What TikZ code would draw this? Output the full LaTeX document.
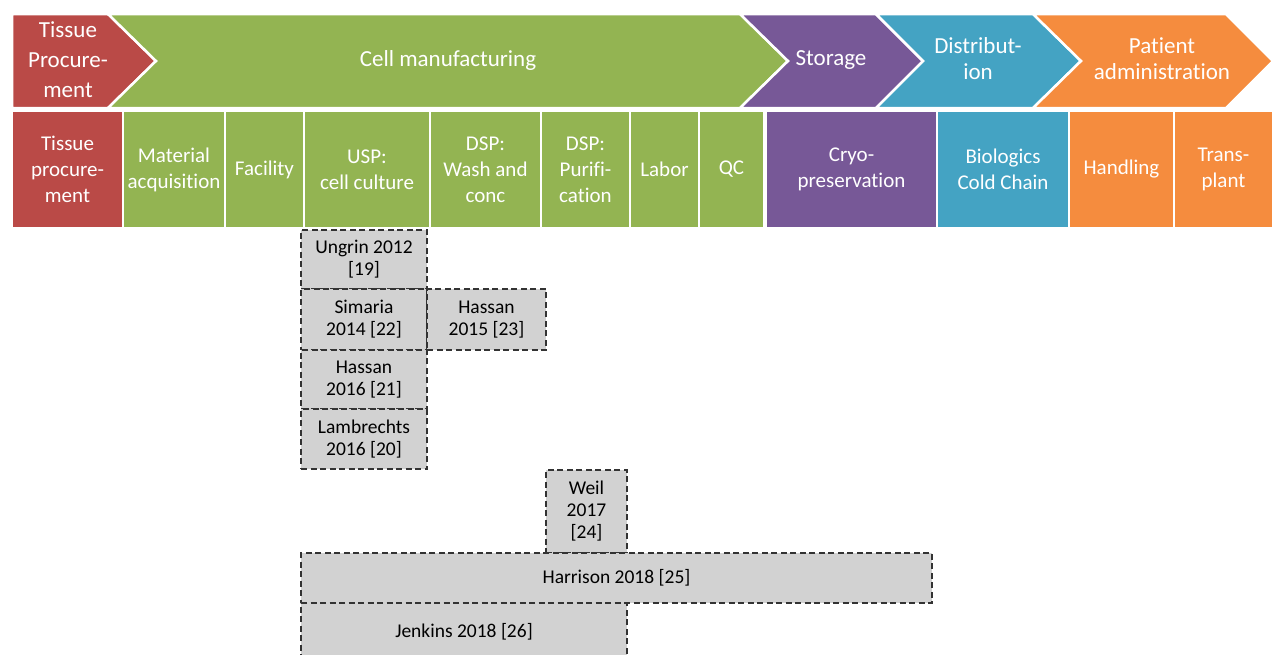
\documentclass[tikz,border=0pt]{standalone}
\usepackage{fontspec}
\setmainfont{Carlito}[Ligatures=NoCommon]
\definecolor{tisred}{HTML}{BA4A47}
\definecolor{cellgreen}{HTML}{93B452}
\definecolor{storpurple}{HTML}{775897}
\definecolor{distblue}{HTML}{44A3C3}
\definecolor{patorange}{HTML}{F58C3E}
\tikzset{
    chev/.style={draw=white, line width=2.5pt, line join=miter},
    chevtext/.style={text=white, align=center, inner sep=0pt, font=\fontsize{23}{26}\selectfont},
    hdr/.style={draw=white, line width=1.5pt, text=white, align=center, inner sep=0pt,
        minimum height=117pt, font=\fontsize{21}{26}\selectfont},
    ref/.style={draw=black!80, dash pattern=on 6pt off 3.5pt, line width=1.5pt, fill=gray!35,
        align=center, inner sep=0pt, font=\fontsize{19.5}{22}\selectfont}
}
\begin{document}
\begin{tikzpicture}[x=1pt, y=-1pt]
\useasboundingbox (0,0) rectangle (1273,654);
\clip (0,0) rectangle (1273,654);

% Process chevrons
\fill[chev, fill=tisred] (12,14) -- (108,14) -- (156,61) -- (108,108) -- (12,108) -- cycle;
\fill[chev, fill=cellgreen] (108,14) -- (740,14) -- (788,61) -- (740,108) -- (108,108) -- (156,61) -- cycle;
\fill[chev, fill=storpurple] (740,14) -- (876,14) -- (923,61) -- (876,108) -- (740,108) -- (788,61) -- cycle;
\fill[chev, fill=distblue] (876,14) -- (1033,14) -- (1081,61) -- (1033,108) -- (876,108) -- (923,61) -- cycle;
\fill[chev, fill=patorange] (1033,14) -- (1226,14) -- (1273,61) -- (1226,108) -- (1033,108) -- (1081,61) -- cycle;

\node[chevtext, font=\fontsize{23}{30}\selectfont] (tproc) at (68,60) {Tissue\\Procure-\\ment};
\node[chevtext] (cellman) at (448,60) {Cell manufacturing};
\node[chevtext] (stor) at (831,60) {Storage};
\node[chevtext] (distr) at (978,59) {Distribut-\\ion};
\node[chevtext] (patadm) at (1162,59) {Patient\\administration};

% Cost categories
\node[hdr, fill=tisred, minimum width=111pt] (tisproc) at (67.5,169.5) {Tissue\\procure-\\ment};
\node[hdr, fill=cellgreen, minimum width=102pt] (material) at (174,169.5) {Material\\acquisition};
\node[hdr, fill=cellgreen, minimum width=79pt] (facility) at (264.5,169.5) {Facility};
\node[hdr, fill=cellgreen, minimum width=126pt] (usp) at (367,169.5) {USP:\\cell culture};
\node[hdr, fill=cellgreen, minimum width=111pt] (dspwash) at (485.5,169.5) {DSP:\\Wash and\\conc};
\node[hdr, fill=cellgreen, minimum width=89pt] (dsppur) at (585.5,169.5) {DSP:\\Purifi-\\cation};
\node[hdr, fill=cellgreen, minimum width=69pt] (labor) at (664.5,169.5) {Labor};
\node[hdr, fill=cellgreen, minimum width=65pt] (qc) at (731.5,169.5) {QC};
\node[hdr, fill=storpurple, minimum width=171pt] (cryo) at (851.5,169.5) {Cryo-\\preservation};
\node[hdr, fill=distblue, minimum width=132pt] (cold) at (1003,169.5) {Biologics\\Cold Chain};
\node[hdr, fill=patorange, minimum width=105pt] (handling) at (1121.5,169.5) {Handling};
\node[hdr, fill=patorange, minimum width=99pt] (transplant) at (1223.5,169.5) {Trans-\\plant};

% Studies
\node[ref, minimum width=126pt, minimum height=59pt] (ungrin) at (364,259.5) {Ungrin 2012\\{[19]}};
\node[ref, minimum width=126pt, minimum height=61pt] (simaria) at (364,319.5) {Simaria\\2014 [22]};
\node[ref, minimum width=119pt, minimum height=61pt] (hassanA) at (486.5,319.5) {Hassan\\2015 [23]};
\node[ref, minimum width=126pt, minimum height=59pt] (hassanB) at (364,379.5) {Hassan\\2016 [21]};
\node[ref, minimum width=126pt, minimum height=60pt] (lambrechts) at (364,439) {Lambrechts\\2016 [20]};
\node[ref, minimum width=81pt, minimum height=83pt] (weil) at (586.5,511.5) {Weil\\2017\\{[24]}};
\node[ref, minimum width=631pt, minimum height=50pt] (harrison) at (616.5,578) {Harrison 2018 [25]};
\node[ref, minimum width=326pt, minimum height=57pt] (jenkins) at (464,631.5) {Jenkins 2018 [26]};
\end{tikzpicture}
\end{document}
